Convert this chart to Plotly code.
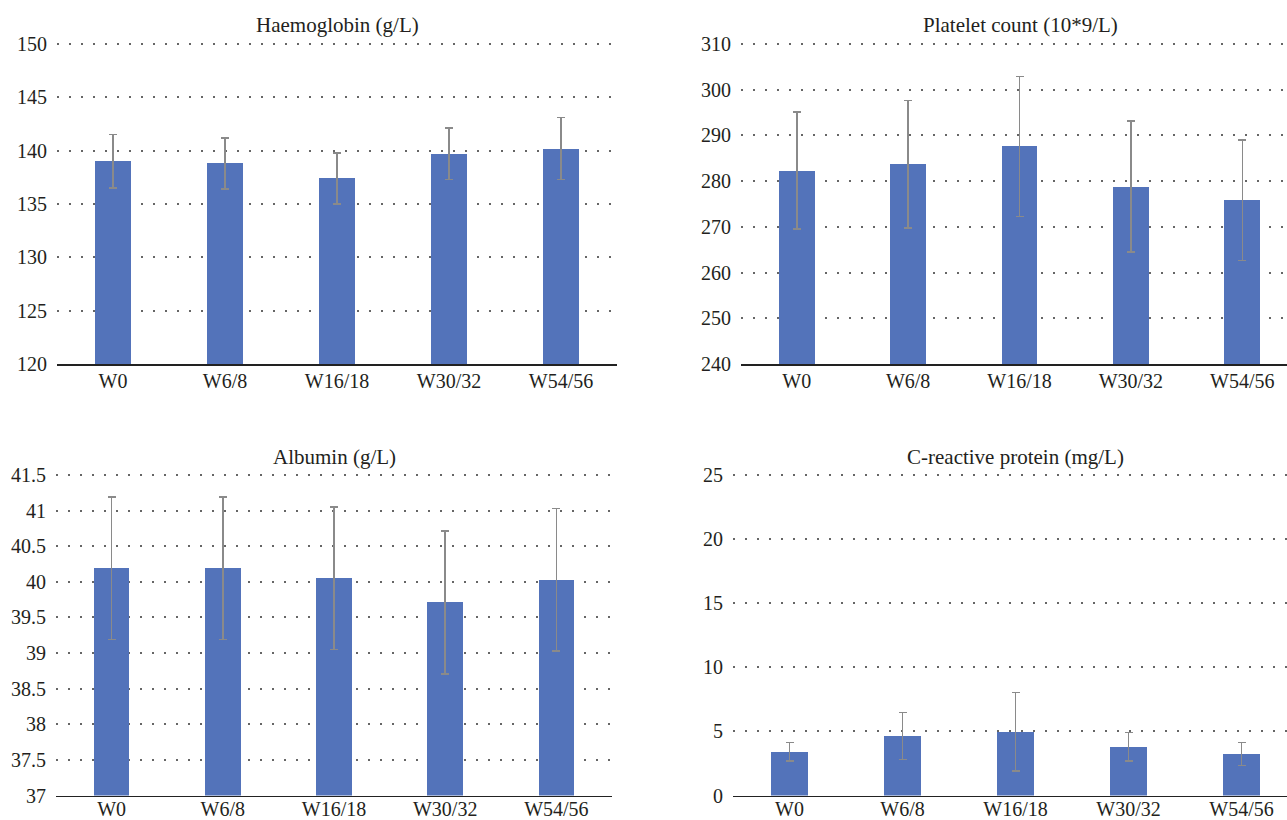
import plotly.graph_objects as go

categories = ["W0", "W6/8", "W16/18", "W30/32", "W54/56"]

hb_mean = [139.0, 138.8, 137.4, 139.7, 140.2]
hb_err = [2.5, 2.4, 2.4, 2.4, 2.9]

plt_mean = [282.3, 283.7, 287.6, 278.8, 275.8]
plt_err = [12.8, 13.9, 15.3, 14.3, 13.2]

alb_mean = [40.19, 40.19, 40.05, 39.71, 40.03]
alb_err = [1.0, 1.0, 1.0, 1.0, 1.0]

crp_mean = [3.4, 4.65, 4.97, 3.8, 3.25]
crp_err = [0.72, 1.83, 3.08, 1.13, 0.9]

titles = ["Haemoglobin (g/L)", "Platelet count (10*9/L)", "Albumin (g/L)", "C-reactive protein (mg/L)"]
y_ranges = [[120, 150], [240, 310], [37, 41.5], [0, 25]]
y_dticks = [5, 10, 0.5, 5]

W, H = 1287, 820
BAR = "#5373ba"
FONT = "Liberation Serif"
TXT = "#231f20"

# page-pixel layout of the four panels: (left, right, top, bottom, full_right, title_center_x, title_y, xlabel_standoff)
panels = [
    (57, 617, 44, 364, 617, 337, 25, -2),
    (741, 1287, 44, 364, 1298, 1020, 25, -2),
    (56, 612, 475, 795.5, 612, 334, 457, -5),
    (733, 1287, 475, 795.5, 1298, 1016, 457, -5),
]

fig = go.Figure()
series = [(hb_mean, hb_err), (plt_mean, plt_err), (alb_mean, alb_err), (crp_mean, crp_err)]
annotations = []
layout = {}
for i, ((means, errs), (l, r, t, b, fr, tcx, ty, xso)) in enumerate(zip(series, panels)):
    sfx = "" if i == 0 else str(i + 1)
    r = min(r, W)
    n = len(categories)
    step = (fr - l) / n
    x_right = -0.5 + (r - l) / step
    y0, y1 = y_ranges[i]
    ppu = (b - t) / (y1 - y0)
    pad = 1.5
    fig.add_trace(go.Bar(
        x=categories, y=means, width=0.32,
        marker=dict(color=BAR, line=dict(width=0)),
        error_y=dict(type="data", array=errs, visible=True, color="#8a8a8a", thickness=1.6, width=4),
        xaxis="x" + sfx, yaxis="y" + sfx, showlegend=False, hoverinfo="skip",
    ))
    layout["xaxis" + sfx] = dict(
        domain=[l / W, r / W], anchor="y" + sfx, type="category", automargin=False,
        range=[-0.5, x_right], showgrid=False, showline=True, linecolor="#222", linewidth=1.5,
        ticks="", tickfont=dict(family=FONT, size=20, color=TXT), zeroline=False,
        ticklabelstandoff=xso, fixedrange=True,
    )
    layout["yaxis" + sfx] = dict(
        domain=[(H - b) / H, (H - (t - pad)) / H], anchor="x" + sfx, automargin=False,
        range=[y0, y1 + pad / ppu], dtick=y_dticks[i], tick0=y0,
        showgrid=True, gridcolor="#666", gridwidth=2, griddash="2px 10px",
        showline=False, zeroline=False, ticks="",
        tickfont=dict(family=FONT, size=20, color=TXT), ticklabelstandoff=9,
        fixedrange=True,
    )
    annotations.append(dict(
        text=titles[i], xref="paper", yref="paper", x=tcx / W, y=(H - ty) / H,
        xanchor="center", yanchor="middle", showarrow=False,
        font=dict(family=FONT, size=21, color=TXT),
    ))

fig.update_layout(
    width=W, height=H, margin=dict(l=0, r=0, t=0, b=0, autoexpand=False),
    paper_bgcolor="white", plot_bgcolor="white",
    annotations=annotations, bargap=0, **layout,
)
fig.write_html(
    "out.html",
    config={"displayModeBar": False, "staticPlot": True},
    post_script="document.body.style.margin='0';document.body.style.overflow='hidden';",
)
